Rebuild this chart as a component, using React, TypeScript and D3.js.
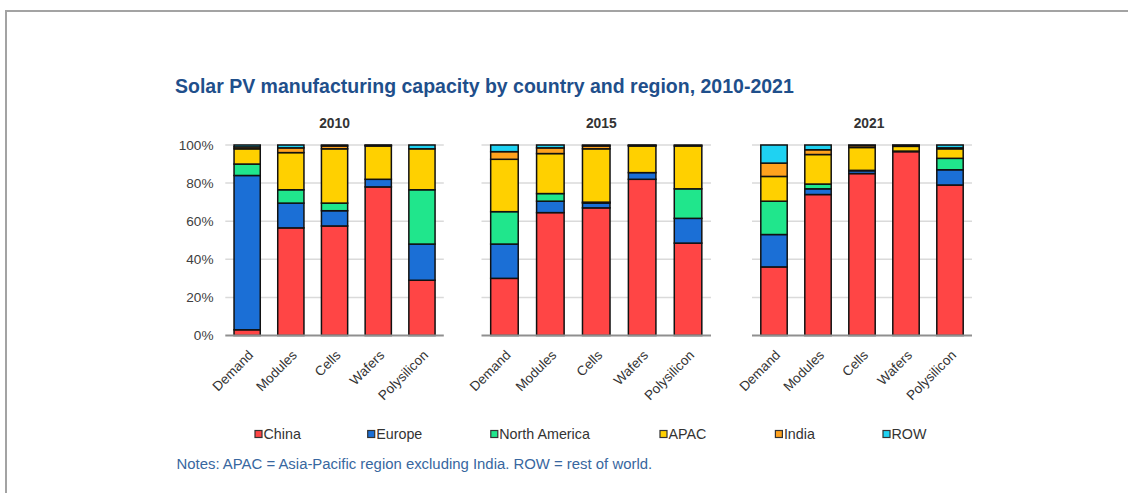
import React from "react";
import * as d3 from "d3";

const categories = ["Demand", "Modules", "Cells", "Wafers", "Polysilicon"];
const years = ["2010", "2015", "2021"];
const regions = ["China", "Europe", "North America", "APAC", "India", "ROW"];
const yTicks = [0, 20, 40, 60, 80, 100];

// rows = regions, columns = categories (share, %)
const share2010 = [
  [3, 56.5, 57.5, 78, 29],
  [81, 13, 8, 4, 19],
  [6, 7, 4, 0, 28.5],
  [8, 19.5, 28.5, 17.5, 21.5],
  [1, 2.5, 1.5, 0.3, 0],
  [1, 1.5, 0.5, 0.2, 2],
];
const share2015 = [
  [30, 64.5, 67, 82, 48.5],
  [18, 6, 2.5, 3.5, 13],
  [17, 4, 0.5, 0, 15.5],
  [27.5, 21, 28, 14, 22.5],
  [4, 3, 1.5, 0.3, 0],
  [3.5, 1.5, 0.5, 0.2, 0.5],
];
const share2021 = [
  [36, 74, 85, 96.5, 79],
  [17, 3, 1.5, 0.3, 8],
  [17.5, 2.5, 0.2, 0, 6],
  [13, 15.5, 12, 2.5, 5],
  [7, 2.5, 1, 0.5, 0.5],
  [9.5, 2.5, 0.3, 0.2, 1.5],
];
const yearShares = [share2010, share2015, share2021];

const colors = ["#ff4545", "#1b6fd6", "#20e68c", "#ffd000", "#ffa21e", "#1fd2f2"];

// layout
const panelRanges: [number, number][] = [
  [225.3, 443.8],
  [481.5, 711],
  [752, 972],
];
const titleOffsets = [0, 5, 7];
const legendX = [255, 367.7, 490.8, 660, 775.4, 883];
const FONT = "'Liberation Sans', Arial, sans-serif";

export default function App() {
  const y = d3.scaleLinear().domain([0, 100]).range([335.5, 145]);

  return (
    <svg
      width={1129}
      height={493}
      style={{ position: "absolute", left: 0, top: 0, background: "#fff" }}
      fontFamily={FONT}
    >
      <rect x={0} y={0} width={1129} height={493} fill="#fff" />
      {/* frame */}
      <line x1={5} x2={1128} y1={11} y2={11} stroke="#a3a3a3" strokeWidth={2} />
      <line x1={6} x2={6} y1={11} y2={493} stroke="#a3a3a3" strokeWidth={2} />

      <text x={175} y={93} fontSize={19.5} fontWeight="bold" fill="#1f4f8b">
        Solar PV manufacturing capacity by country and region, 2010-2021
      </text>

      {years.map((yr, pi) => {
        const x = d3
          .scaleBand<string>()
          .domain(categories)
          .range(panelRanges[pi])
          .paddingInner(0.4)
          .paddingOuter(0.2);
        const data = yearShares[pi];
        const series = d3
          .stack<number>()
          .keys(regions.map((_, i) => String(i)))
          .value((ci, key) => data[+key][ci])(categories.map((_, i) => i));
        const [r0, r1] = panelRanges[pi];
        return (
          <g key={yr}>
            <text
              x={(r0 + r1) / 2 + titleOffsets[pi]}
              y={128}
              textAnchor="middle"
              fontSize={13.8}
              fontWeight="bold"
              fill="#333"
            >
              {yr}
            </text>
            {yTicks.map((t) =>
              t === 0 ? null : (
                <line
                  key={t}
                  x1={r0}
                  x2={r1}
                  y1={y(t)}
                  y2={y(t)}
                  stroke="#dadada"
                  strokeWidth={1.5}
                />
              )
            )}
            {pi === 0 &&
              yTicks.map((t) => (
                <text
                  key={t}
                  x={213.5}
                  y={y(t)}
                  dy="0.35em"
                  textAnchor="end"
                  fontSize={13.6}
                  fill="#404040"
                >
                  {t}%
                </text>
              ))}
            {series.map((s, si) =>
              s.map((d, ci) => {
                const h = y(d[0]) - y(d[1]);
                if (h <= 0) return null;
                return (
                  <rect
                    key={si + "-" + ci}
                    x={x(categories[ci])}
                    y={y(d[1])}
                    width={x.bandwidth()}
                    height={h}
                    fill={colors[si]}
                    stroke="#111"
                    strokeWidth={1.5}
                  />
                );
              })
            )}
            <line
              x1={r0}
              x2={r1}
              y1={y(0)}
              y2={y(0)}
              stroke="#8f8f8f"
              strokeWidth={2}
            />
            {categories.map((c) => {
              const cx = (x(c) as number) + x.bandwidth() / 2 + 7;
              return (
                <text
                  key={c}
                  transform={`translate(${cx},356) rotate(-45)`}
                  textAnchor="end"
                  fontSize={13.5}
                  fill="#333"
                >
                  {c}
                </text>
              );
            })}
          </g>
        );
      })}

      {regions.map((r, i) => (
        <g key={r}>
          <rect
            x={legendX[i]}
            y={430.5}
            width={7}
            height={7}
            fill={colors[i]}
            stroke="#333"
            strokeWidth={1.2}
          />
          <text x={legendX[i] + 8.5} y={434} dy="0.35em" fontSize={14.3} fill="#333">
            {r}
          </text>
        </g>
      ))}

      <text x={176.5} y={464} dy="0.35em" fontSize={14.9} fill="#3867a0">
        Notes: APAC = Asia-Pacific region excluding India. ROW = rest of world.
      </text>
    </svg>
  );
}
